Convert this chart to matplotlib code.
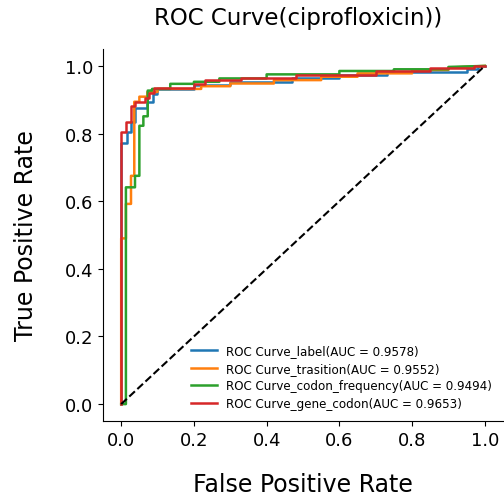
import numpy as np
import matplotlib
matplotlib.use("Agg")
import matplotlib.pyplot as plt

# ROC points per feature set (false positive rate, true positive rate)
fpr_label = [0, 0, 0.016, 0.016, 0.027, 0.027, 0.038, 0.038, 0.072, 0.072, 0.088, 0.088,
             0.098, 0.098, 0.2, 0.2, 0.3, 0.3, 0.47, 0.47, 0.6, 0.6, 0.73, 0.73,
             0.95, 0.95, 0.98, 0.98, 1.0]
tpr_label = [0, 0.771, 0.771, 0.804, 0.804, 0.833, 0.833, 0.875, 0.875, 0.893, 0.893, 0.917,
             0.917, 0.932, 0.932, 0.944, 0.944, 0.953, 0.953, 0.964, 0.964, 0.972, 0.972, 0.982,
             0.982, 0.99, 0.99, 1.0, 1.0]

fpr_trasition = [0, 0, 0.013, 0.013, 0.027, 0.027, 0.036, 0.036, 0.05, 0.05, 0.072, 0.072,
                 0.1, 0.1, 0.22, 0.22, 0.3, 0.3, 0.42, 0.42, 0.55, 0.55, 0.65, 0.65,
                 0.8, 0.8, 0.9, 0.9, 1.0]
tpr_trasition = [0, 0.49, 0.49, 0.592, 0.592, 0.675, 0.675, 0.894, 0.894, 0.909, 0.909, 0.923,
                 0.923, 0.932, 0.932, 0.94, 0.94, 0.948, 0.948, 0.958, 0.958, 0.968, 0.968, 0.978,
                 0.978, 0.988, 0.988, 0.995, 1.0]

fpr_codon_freq = [0, 0.013, 0.013, 0.038, 0.038, 0.05, 0.05, 0.061, 0.061, 0.073, 0.073, 0.085,
                  0.085, 0.135, 0.135, 0.2, 0.2, 0.27, 0.27, 0.4, 0.4, 0.6, 0.6, 0.75,
                  0.75, 0.9, 0.9, 1.0]
tpr_codon_freq = [0, 0, 0.641, 0.641, 0.675, 0.675, 0.823, 0.823, 0.851, 0.851, 0.927, 0.927,
                  0.932, 0.932, 0.947, 0.947, 0.953, 0.953, 0.963, 0.963, 0.975, 0.975, 0.985, 0.985,
                  0.99, 0.99, 0.997, 1.0]

fpr_gene_codon = [0, 0, 0.014, 0.014, 0.027, 0.027, 0.038, 0.038, 0.066, 0.066, 0.077, 0.077,
                  0.089, 0.089, 0.2, 0.2, 0.23, 0.23, 0.33, 0.33, 0.48, 0.48, 0.7, 0.7,
                  0.85, 0.85, 0.97, 0.97, 1.0]
tpr_gene_codon = [0, 0.804, 0.804, 0.833, 0.833, 0.881, 0.881, 0.894, 0.894, 0.905, 0.905, 0.92,
                  0.92, 0.934, 0.934, 0.947, 0.947, 0.957, 0.957, 0.965, 0.965, 0.973, 0.973, 0.986,
                  0.986, 0.993, 0.993, 1.0, 1.0]

names = ["label", "trasition", "codon_frequency", "gene_codon"]
aucs = [0.9578, 0.9552, 0.9494, 0.9653]
curves = [(fpr_label, tpr_label), (fpr_trasition, tpr_trasition),
          (fpr_codon_freq, tpr_codon_freq), (fpr_gene_codon, tpr_gene_codon)]

fig = plt.figure(figsize=(5.04, 5.02), dpi=100)
ax = fig.add_axes([103 / 504, 80 / 502, 400 / 504, 372 / 502])

for name, auc, (fpr, tpr) in zip(names, aucs, curves):
    ax.plot(fpr, tpr, lw=1.8, label=f"ROC Curve_{name}(AUC = {auc:.4f})")

ax.plot([0, 1], [0, 1], "k--", lw=1.5)

ax.spines["top"].set_visible(False)
ax.spines["right"].set_visible(False)
ax.set_xticks(np.arange(0, 1.01, 0.2))
ax.set_yticks(np.arange(0, 1.01, 0.2))
ax.tick_params(labelsize=13)
ax.set_xlabel("False Positive Rate", fontsize=17, labelpad=17)
ax.set_ylabel("True Positive Rate", fontsize=17, labelpad=19)
ax.set_title("ROC Curve(ciprofloxicin))", fontsize=16.5, pad=18, x=0.4875)
ax.legend(loc="lower right", fontsize=8.6, handlelength=2.2, labelspacing=0.4,
          frameon=False)

fig.savefig("out.png", dpi=100)
